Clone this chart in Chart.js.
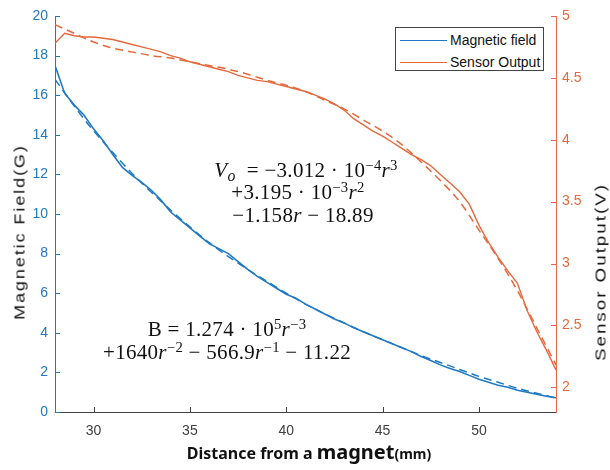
<!DOCTYPE html>
<html>
<head>
<meta charset="utf-8">
<script src="https://cdn.jsdelivr.net/npm/chart.js@4.4.1/dist/chart.umd.min.js"></script>
<style>
  body { margin: 0; background: #fff; }
  #wrap { position: relative; width: 610px; height: 470px; }
  .txt { position: absolute; white-space: nowrap; line-height: 1; color: #111; }
  .ytitle { font: 15px 'Liberation Sans', Arial, sans-serif; letter-spacing: 1.6px; }
  #leftTitle { left: 19px; top: 232px; transform: translate(-50%, -50%) rotate(-90deg) scaleX(1.2); }
  #rightTitle { left: 600px; top: 272px; transform: translate(-50%, -50%) rotate(-90deg) scaleX(1.25); }
  #xTitle { left: 309px; top: 452px; transform: translate(-50%, -50%); font-family: 'Noto Sans', sans-serif; font-weight: bold; font-size: 16px; }
  #xTitle .big { font-size: 20px; }
  #xTitle .small { font-size: 14px; }
  .eq { font: 21px 'Liberation Serif', 'Times New Roman', serif; line-height: 20px; letter-spacing: 0.3px; transform: translateX(-50%); }
  .eq sup { font-size: 0.7em; vertical-align: 0.45em; line-height: 0; }
  .eq sub { font-size: 0.75em; vertical-align: -0.25em; line-height: 0; }
  #legend { position: absolute; left: 395px; top: 27px; width: 147px; height: 42px; border: 1px solid #444; background: #fff;
            font: 14px 'Liberation Sans', Arial, sans-serif; color: #111; }
  #legend .row { position: absolute; left: 4px; height: 16px; display: flex; align-items: center; }
  #legend .swatch { width: 47px; height: 0; border-top: 1.5px solid; margin-right: 3px; }
</style>
</head>
<body>
<div id="wrap">
  <canvas id="myChart" width="610" height="470"></canvas>
  <div class="txt ytitle" id="leftTitle">Magnetic Field(G)</div>
  <div class="txt ytitle" id="rightTitle">Sensor Output(V)</div>
  <div class="txt" id="xTitle">Distance from a <span class="big">magnet</span><span class="small">(mm)</span></div>

  <div class="txt eq" style="left:306px; top:160px"><i>V</i><sub><i>o</i></sub>&nbsp; = −3.012 · 10<sup>−4</sup><i>r</i><sup>3</sup></div>
  <div class="txt eq" style="left:298px; top:182px">+3.195 · 10<sup>−3</sup><i>r</i><sup>2</sup></div>
  <div class="txt eq" style="left:303px; top:205px">−1.158<i>r</i> − 18.89</div>
  <div class="txt eq" style="left:227px; top:319px">B = 1.274 · 10<sup>5</sup><i>r</i><sup>−3</sup></div>
  <div class="txt eq" style="left:227px; top:342px">+1640<i>r</i><sup>−2</sup> − 566.9<i>r</i><sup>−1</sup> − 11.22</div>

  <div id="legend"></div>
</div>
<script>
// measured data (0.5 mm steps)
const distanceMm = [28, 28.5, 29, 29.5, 30, 30.5, 31, 31.5, 32, 32.5, 33, 33.5, 34, 34.5, 35, 35.5, 36, 36.5,
  37, 37.5, 38, 38.5, 39, 39.5, 40, 40.5, 41, 41.5, 42, 42.5, 43, 43.5, 44, 44.5, 45, 45.5, 46, 46.5,
  47, 47.5, 48, 48.5, 49, 49.5, 50, 50.5, 51, 51.5, 52, 52.5, 53, 53.5, 54];
const fieldG = [17.5, 16.1, 15.5, 15.0, 14.3, 13.7, 13.0, 12.35, 11.95, 11.6, 11.2, 10.7, 10.1, 9.7, 9.3, 8.9, 8.5, 8.25,
  8.0, 7.6, 7.2, 6.85, 6.55, 6.25, 5.95, 5.75, 5.45, 5.2, 4.95, 4.7, 4.5, 4.25, 4.05, 3.85, 3.65, 3.45, 3.25, 3.05,
  2.8, 2.6, 2.38, 2.2, 2.05, 1.85, 1.65, 1.5, 1.35, 1.25, 1.1, 1.0, 0.9, 0.8, 0.72];
const sensorV = [4.78, 4.86, 4.84, 4.83, 4.83, 4.82, 4.81, 4.79, 4.77, 4.75, 4.73, 4.71, 4.68, 4.66, 4.63, 4.61, 4.59, 4.57,
  4.55, 4.52, 4.50, 4.48, 4.47, 4.45, 4.43, 4.41, 4.39, 4.36, 4.33, 4.29, 4.24, 4.17, 4.12, 4.07, 4.03, 3.98, 3.93, 3.88,
  3.84, 3.79, 3.72, 3.65, 3.58, 3.48, 3.31, 3.17, 3.05, 2.94, 2.84, 2.62, 2.45, 2.30, 2.14];

// fitted curves (1 mm steps)
const fitDistanceMm = [28, 29, 30, 31, 32, 33, 34, 35, 36, 37, 38, 39, 40, 41, 42, 43, 44, 45, 46, 47, 48, 49, 50, 51, 52, 53, 54];
const fieldFitG = [16.8, 15.45, 14.2, 13.1, 12.05, 11.1, 10.2, 9.35, 8.55, 7.85, 7.2, 6.6, 6.0, 5.45, 4.95, 4.5, 4.05,
  3.65, 3.25, 2.85, 2.5, 2.15, 1.8, 1.5, 1.2, 0.95, 0.7];
const sensorFitV = [4.93, 4.86, 4.79, 4.74, 4.71, 4.68, 4.66, 4.63, 4.60, 4.57, 4.53, 4.48, 4.44, 4.39, 4.32, 4.25, 4.16,
  4.07, 3.96, 3.82, 3.67, 3.50, 3.27, 3.04, 2.78, 2.48, 2.18];

const seriesNames = ['Magnetic field', 'Sensor Output'];
const xTicks = [30, 35, 40, 45, 50];
const fieldTicks = [0, 2, 4, 6, 8, 10, 12, 14, 16, 18, 20];
const sensorTicks = [2, 2.5, 3, 3.5, 4, 4.5, 5];

const blue = '#2079c3';
const orange = '#e5693c';
const axisGray = '#404040';

function toPoints(xs, ys) {
  return xs.map((x, i) => ({ x: x, y: ys[i] }));
}

// MATLAB style tick marks pointing into the plot
const insideTicks = {
  id: 'insideTicks',
  afterDatasetsDraw(chart) {
    const { ctx, chartArea: a, scales } = chart;
    const len = 5;
    ctx.save();
    ctx.lineWidth = 1;
    ctx.strokeStyle = axisGray;
    scales.x.ticks.forEach(t => {
      const px = Math.round(scales.x.getPixelForValue(t.value)) + 0.5;
      ctx.beginPath(); ctx.moveTo(px, a.bottom); ctx.lineTo(px, a.bottom - len); ctx.stroke();
    });
    ctx.strokeStyle = blue;
    scales.y.ticks.forEach(t => {
      const py = Math.round(scales.y.getPixelForValue(t.value)) + 0.5;
      ctx.beginPath(); ctx.moveTo(a.left, py); ctx.lineTo(a.left + len, py); ctx.stroke();
    });
    ctx.strokeStyle = orange;
    scales.y1.ticks.forEach(t => {
      const py = Math.round(scales.y1.getPixelForValue(t.value)) + 0.5;
      ctx.beginPath(); ctx.moveTo(a.right, py); ctx.lineTo(a.right - len, py); ctx.stroke();
    });
    ctx.restore();
  }
};

function makeLegend() {
  const box = document.getElementById('legend');
  [blue, orange].forEach((c, i) => {
    const row = document.createElement('div');
    row.className = 'row';
    row.style.top = (4 + i * 22) + 'px';
    row.innerHTML = `<span class="swatch" style="border-color:${c}"></span><span>${seriesNames[i]}</span>`;
    box.appendChild(row);
  });
}

function makeChart() {
  Chart.defaults.font.family = "'Liberation Sans', Arial, sans-serif";
  const ctx = document.getElementById('myChart');

  new Chart(ctx, {
    type: 'line',
    data: {
      datasets: [
        { label: seriesNames[0], data: toPoints(distanceMm, fieldG), yAxisID: 'y',
          borderColor: blue, borderWidth: 1.6, pointRadius: 0 },
        { label: 'fit B', data: toPoints(fitDistanceMm, fieldFitG), yAxisID: 'y',
          borderColor: blue, borderWidth: 1.5, borderDash: [8, 5], pointRadius: 0, cubicInterpolationMode: 'monotone' },
        { label: seriesNames[1], data: toPoints(distanceMm, sensorV), yAxisID: 'y1',
          borderColor: orange, borderWidth: 1.4, pointRadius: 0 },
        { label: 'fit Vo', data: toPoints(fitDistanceMm, sensorFitV), yAxisID: 'y1',
          borderColor: orange, borderWidth: 1.5, borderDash: [8, 5], pointRadius: 0, cubicInterpolationMode: 'monotone' }
      ]
    },
    options: {
      responsive: false,
      animation: false,
      layout: { padding: { top: 16, left: 0, right: 0, bottom: 0 } },
      plugins: { legend: { display: false }, tooltip: { enabled: false } },
      scales: {
        x: {
          type: 'linear', min: 28, max: 54,
          afterBuildTicks: axis => { axis.ticks = xTicks.map(v => ({ value: v })); },
          afterFit: s => { s.height = 58; },
          grid: { display: false, drawTicks: false },
          border: { color: axisGray, width: 1 },
          ticks: { color: axisGray, font: { size: 14 }, padding: 11 }
        },
        y: {
          position: 'left', min: 0, max: 20,
          afterBuildTicks: axis => { axis.ticks = fieldTicks.map(v => ({ value: v })); },
          afterFit: s => { s.width = 55; },
          grid: { display: false, drawTicks: false },
          border: { color: blue, width: 1 },
          ticks: { color: blue, font: { size: 14 }, padding: 7 }
        },
        y1: {
          position: 'right', min: 1.8, max: 5,
          afterBuildTicks: axis => { axis.ticks = sensorTicks.map(v => ({ value: v })); },
          afterFit: s => { s.width = 54; },
          grid: { display: false, drawTicks: false },
          border: { color: orange, width: 1 },
          ticks: { color: orange, font: { size: 14 }, padding: 6, callback: v => String(v) }
        }
      }
    },
    plugins: [insideTicks]
  });
}

makeLegend();
makeChart();
</script>
</body>
</html>
